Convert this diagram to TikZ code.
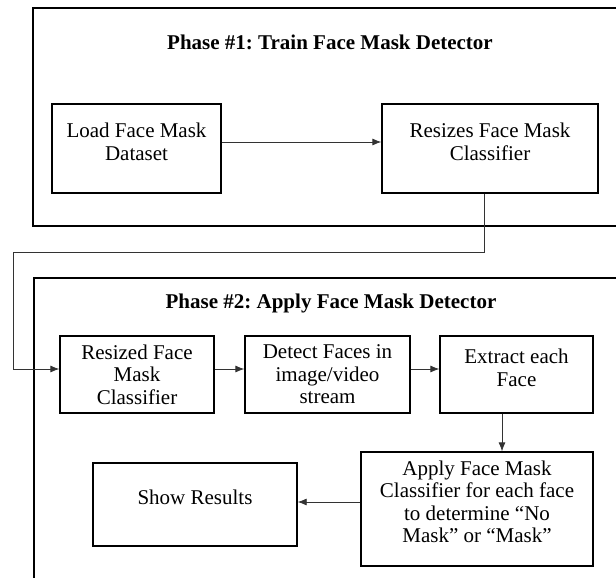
\documentclass[tikz,border=0pt]{standalone}
\usepackage{fontspec}
\setmainfont{Liberation Serif}
\usetikzlibrary{arrows.meta}
\frenchspacing

\begin{document}
\begin{tikzpicture}[x=1pt, y=-1pt, >={Latex[length=9pt,width=7pt]},
  frame/.style={draw, line width=1.6pt},
  box/.style={draw, line width=1.3pt, inner sep=0pt},
  txt/.style={align=center, font=\fontsize{21}{22.5}\selectfont},
  title/.style={font=\fontsize{21}{22.5}\selectfont\bfseries},
  arr/.style={->, line width=0.8pt, black!80}]

\useasboundingbox (0,0) rectangle (616,578);
\clip (0,0) rectangle (616,578);

% phase 1
\draw[frame] (33,8) rectangle (640,226);
\node[title] (title1) at (330,42) {Phase \#1: Train Face Mask Detector};

\node[box, minimum width=169pt, minimum height=89pt,
  label={[txt,yshift=6.5pt]center:{Load Face Mask\\Dataset}}] (load) at (136.5,148.5) {};
\node[box, minimum width=216pt, minimum height=89pt,
  label={[txt,yshift=6.5pt]center:{Resizes Face Mask\\Classifier}}] (resizes) at (490,148.5) {};

\draw[arr] ([yshift=6.5pt]load.east) -- ([yshift=6.5pt]resizes.west);

% phase 2
\draw[frame] (34,278) rectangle (640,640);
\node[title] (title2) at (331,303) {Phase \#2: Apply Face Mask Detector};

\node[box, minimum width=154pt, minimum height=77pt,
  label={[txt]center:{Resized Face\\Mask\\Classifier}}] (resized) at (137,374.5) {};
\node[box, minimum width=165pt, minimum height=77pt,
  label={[txt]center:{Detect Faces in\\image/video\\stream}}] (detect) at (327.5,374.5) {};
\node[box, minimum width=153pt, minimum height=77pt,
  label={[txt,yshift=6.5pt]center:{Extract each\\Face}}] (extract) at (516.5,374.5) {};
\node[box, minimum width=232pt, minimum height=114pt,
  label={[txt,yshift=7pt]center:{Apply Face Mask\\Classifier for each face\\to determine “No\\Mask” or “Mask”}}] (apply) at (477,509) {};
\node[box, minimum width=204pt, minimum height=83pt,
  label={[txt,yshift=7.5pt]center:{Show Results}}] (show) at (195,504.5) {};

\coordinate (bend) at (13,252);
\draw[arr] ([xshift=-6pt]resizes.south) |- (bend) |- ([yshift=5.5pt]resized.west);

\draw[arr] ([yshift=5.5pt]resized.east) -- ([yshift=5.5pt]detect.west);
\draw[arr] ([yshift=5.5pt]detect.east) -- ([yshift=5.5pt]extract.west);
\draw[arr] ([xshift=-14.5pt]extract.south) -- ([xshift=-14.5pt]extract.south |- apply.north);
\draw[arr] ([yshift=7pt]apply.west) -- ([yshift=7pt]apply.west -| show.east);

\end{tikzpicture}
\end{document}
